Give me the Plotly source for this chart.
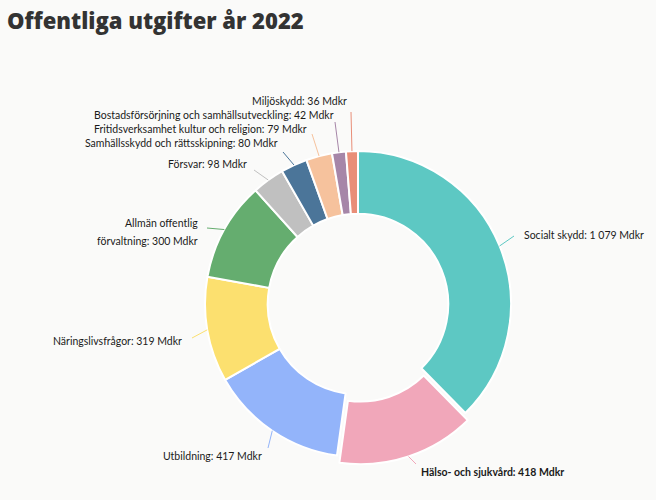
import math
import plotly.graph_objects as go

# ---- data ----
categories = [
    "Socialt skydd",
    "Hälso- och sjukvård",
    "Utbildning",
    "Näringslivsfrågor",
    "Allmän offentlig förvaltning",
    "Försvar",
    "Samhällsskydd och rättsskipning",
    "Fritidsverksamhet kultur och religion",
    "Bostadsförsörjning och samhällsutveckling",
    "Miljöskydd",
]
values = [1079, 418, 417, 319, 300, 98, 80, 79, 42, 36]
value_labels = ["1 079", "418", "417", "319", "300", "98", "80", "79", "42", "36"]
unit = "Mdkr"
title = "Offentliga utgifter år 2022"

# ---- style / layout ----
colors = ["#5DC8C3", "#F1A7BA", "#93B4FA", "#FCE06F", "#65AD6F",
          "#C0C0C0", "#4B7599", "#F6C29D", "#A686A8", "#E98E78"]
pulls = [0, 0.05, 0, 0, 0, 0, 0, 0, 0, 0]
bold = [False, True, False, False, False, False, False, False, False, False]
label_breaks = {4: "Allmän offentlig<br>förvaltning"}
# leader line outer end (px) and text anchor (px, side)
line_ends = [(514, 236), (416, 464), (268, 448), (192, 338), (207, 228),
             (254, 170), (283, 152), (312, 134), (335, 122), (351, 112)]
text_pos = [(522, 235, "left"), (419, 472, "left"), (264, 456, "right"),
            (184, 341, "right"), (200, 232, "right"), (249, 164, "right"),
            (280, 143, "right"), (309, 129, "right"), (336, 115, "right"),
            (349, 101, "right")]

W, H = 656, 500
CX, CY, R = 358, 304, 153
maxpull = max(pulls)
S = R * (1 + maxpull)
BG = "#FAFAF9"
FONT = "Lato"


def px(x):
    return x / W


def py(y):
    return 1 - y / H


fig = go.Figure()
fig.add_trace(go.Pie(
    labels=categories,
    values=values,
    sort=False,
    direction="clockwise",
    rotation=0,
    hole=0.59,
    pull=pulls,
    textinfo="none",
    hoverinfo="label+value",
    marker=dict(colors=colors, line=dict(color="white", width=2)),
    domain=dict(x=[(CX - S) / W, (CX + S) / W], y=[1 - (CY + S) / H, 1 - (CY - S) / H]),
    showlegend=False,
))

total = sum(values)
cum = 0
shapes = []
annotations = []
for i, v in enumerate(values):
    mid = (cum + v / 2) / total * 2 * math.pi
    cum += v
    rr = R * (1 + pulls[i])
    sx = CX + rr * math.sin(mid)
    sy = CY - rr * math.cos(mid)
    ex, ey = line_ends[i]
    shapes.append(dict(type="line", xref="paper", yref="paper",
                       x0=px(sx), y0=py(sy), x1=px(ex), y1=py(ey),
                       line=dict(color=colors[i], width=1)))
    name = label_breaks.get(i, categories[i])
    text = f"{name}: {value_labels[i]} {unit}"
    tx, ty, side = text_pos[i]
    lines = text.split("<br>")
    n = len(lines)
    for k, ln in enumerate(lines):
        yy = ty + (k - (n - 1) / 2) * 17.4
        annotations.append(dict(
            x=px(tx), y=py(yy), xref="paper", yref="paper",
            text=f"<b>{ln}</b>" if bold[i] else ln,
            showarrow=False, xanchor=side, yanchor="middle",
            font=dict(family=FONT, size=10.5, color="#1a1a1a"),
        ))

annotations.append(dict(
    x=px(5), y=py(3), xref="paper", yref="paper", text=title,
    showarrow=False, xanchor="left", yanchor="top",
    font=dict(family="Open Sans", size=22, color="#333333", weight=800),
))

fig.update_layout(
    width=W, height=H,
    margin=dict(l=0, r=0, t=0, b=0),
    paper_bgcolor=BG, plot_bgcolor=BG,
    shapes=shapes, annotations=annotations,
)
fig.write_html("out.html")
